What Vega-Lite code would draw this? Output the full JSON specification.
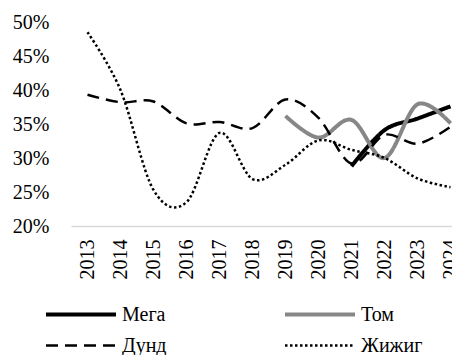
{
  "$schema": "https://vega.github.io/schema/vega-lite/v6.json",
  "width": 396,
  "height": 204,
  "padding": {"left": 12, "top": 12, "right": 0, "bottom": 0},
  "background": "white",
  "config": {
    "view": {"stroke": null},
    "font": "Times New Roman",
    "axis": {"labelFont": "Times New Roman", "labelFontSize": 20, "labelColor": "black", "grid": false, "ticks": false, "title": null},
    "legend": {"labelFont": "Times New Roman"}
  },
  "data": {
    "values": [
      {"year": "2021", "series": "Мега", "value": 0.288},
      {"year": "2022", "series": "Мега", "value": 0.341},
      {"year": "2023", "series": "Мега", "value": 0.358},
      {"year": "2024", "series": "Мега", "value": 0.376},
      {"year": "2019", "series": "Том", "value": 0.362},
      {"year": "2020", "series": "Том", "value": 0.330},
      {"year": "2021", "series": "Том", "value": 0.356},
      {"year": "2022", "series": "Том", "value": 0.300},
      {"year": "2023", "series": "Том", "value": 0.379},
      {"year": "2024", "series": "Том", "value": 0.351},
      {"year": "2013", "series": "Дунд", "value": 0.393},
      {"year": "2014", "series": "Дунд", "value": 0.382},
      {"year": "2015", "series": "Дунд", "value": 0.383},
      {"year": "2016", "series": "Дунд", "value": 0.351},
      {"year": "2017", "series": "Дунд", "value": 0.353},
      {"year": "2018", "series": "Дунд", "value": 0.344},
      {"year": "2019", "series": "Дунд", "value": 0.386},
      {"year": "2020", "series": "Дунд", "value": 0.359},
      {"year": "2021", "series": "Дунд", "value": 0.292},
      {"year": "2022", "series": "Дунд", "value": 0.334},
      {"year": "2023", "series": "Дунд", "value": 0.321},
      {"year": "2024", "series": "Дунд", "value": 0.346},
      {"year": "2013", "series": "Жижиг", "value": 0.485},
      {"year": "2014", "series": "Жижиг", "value": 0.400},
      {"year": "2015", "series": "Жижиг", "value": 0.253},
      {"year": "2016", "series": "Жижиг", "value": 0.235},
      {"year": "2017", "series": "Жижиг", "value": 0.337},
      {"year": "2018", "series": "Жижиг", "value": 0.269},
      {"year": "2019", "series": "Жижиг", "value": 0.290},
      {"year": "2020", "series": "Жижиг", "value": 0.326},
      {"year": "2021", "series": "Жижиг", "value": 0.312},
      {"year": "2022", "series": "Жижиг", "value": 0.300},
      {"year": "2023", "series": "Жижиг", "value": 0.270},
      {"year": "2024", "series": "Жижиг", "value": 0.257}
    ]
  },
  "mark": {"type": "line", "interpolate": "cardinal"},
  "encoding": {
    "x": {
      "field": "year", "type": "ordinal",
      "scale": {"type": "point", "padding": 0.5},
      "axis": {"labelAngle": -90, "labelPadding": 13, "domainColor": "#d9d9d9", "domainWidth": 1.5}
    },
    "y": {
      "field": "value", "type": "quantitative",
      "scale": {"domain": [0.2, 0.5], "nice": false, "zero": false},
      "axis": {"values": [0.2, 0.25, 0.3, 0.35, 0.4, 0.45, 0.5], "format": ".0%", "domain": false, "labelPadding": 22}
    },
    "color": {
      "field": "series", "type": "nominal",
      "scale": {"domain": ["Мега", "Том", "Дунд", "Жижиг"], "range": ["#000000", "#878787", "#000000", "#000000"]},
      "legend": {
        "title": null, "orient": "none", "legendX": -27, "legendY": 282,
        "columns": 2, "direction": "horizontal", "columnPadding": 116, "rowPadding": 10, "clipHeight": 21,
        "symbolType": "stroke", "symbolSize": 4900, "labelFontSize": 20, "labelFont": "Times New Roman", "labelColor": "black", "labelOffset": 4
      }
    },
    "strokeDash": {
      "field": "series", "type": "nominal",
      "scale": {"domain": ["Мега", "Том", "Дунд", "Жижиг"], "range": [[1, 0], [1, 0], [12, 7], [2.5, 2.5]]}
    },
    "strokeWidth": {
      "field": "series", "type": "nominal",
      "scale": {"type": "ordinal", "domain": ["Мега", "Том", "Дунд", "Жижиг"], "range": [4, 4, 2.5, 2.5]}
    }
  }
}
